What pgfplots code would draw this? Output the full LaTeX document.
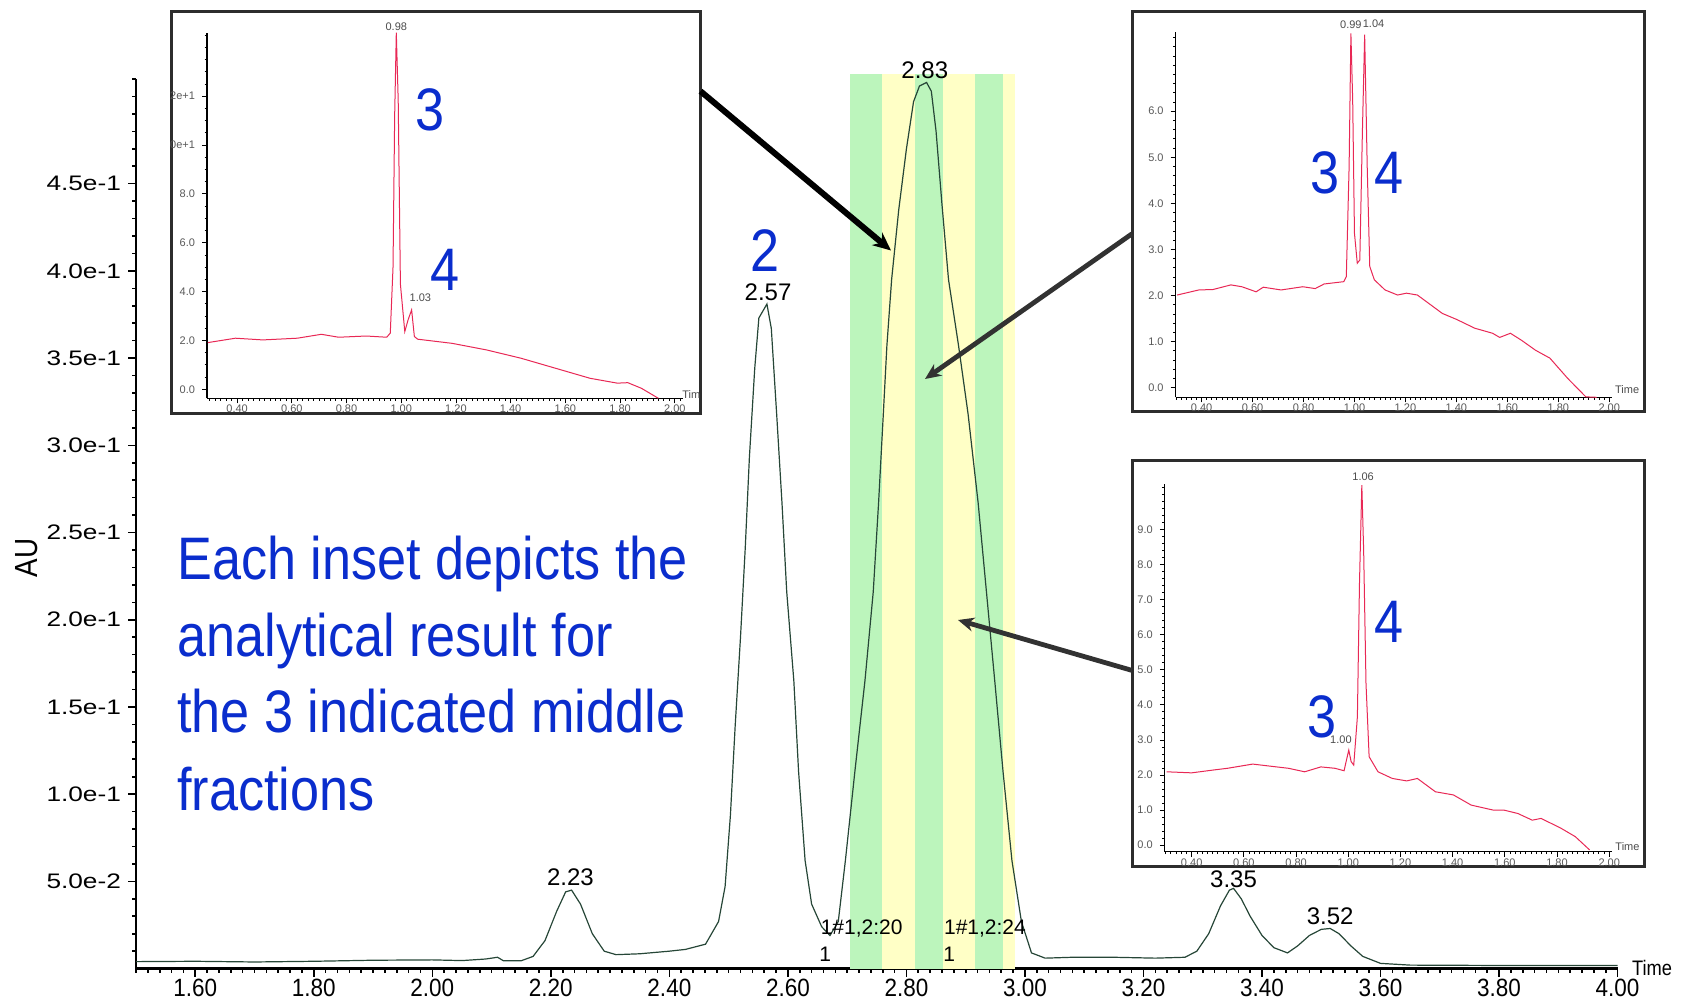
\documentclass[border=0pt]{standalone}
\usepackage{pgfplots}
\pgfplotsset{compat=1.18}
\usetikzlibrary{arrows.meta}
\usepackage{fontspec}
\setmainfont{Liberation Sans}
\newfontfamily\condfont[FakeStretch=0.87]{Liberation Sans}
\newfontfamily\narrowfont[FakeStretch=0.9]{Liberation Sans}
\newfontfamily\widefont[FakeStretch=1.25]{Liberation Sans}
\definecolor{bandgreen}{RGB}{188,245,188}
\definecolor{bandyellow}{RGB}{255,255,198}
\definecolor{trace}{RGB}{38,70,55}
\definecolor{inred}{RGB}{232,40,85}
\definecolor{blueT}{RGB}{10,45,205}
\definecolor{boxcol}{RGB}{45,45,45}
\definecolor{arrcol}{RGB}{50,50,50}
\tikzset{pk/.style={font=\fontsize{5.5}{6}\selectfont, text=black!70, inner sep=0pt}}
\pgfplotsset{
 inset/.style={scale only axis, anchor=south west,
  axis x line*=bottom, axis y line*=left,
  axis line style={line width=0.6pt},
  tick align=outside, major tick length=2.5pt, minor tick length=1.2pt,
  tick style={line width=0.4pt, black},
  tick label style={font=\fontsize{5.5}{6}\selectfont, text=black!65},
  xticklabel style={inner sep=0.5pt, yshift=-0.3pt},
  /pgf/number format/assume math mode=true,
  xtick={0.4,0.6,0.8,1.0,1.2,1.4,1.6,1.8,2.0},
  xticklabels={0.40,0.60,0.80,1.00,1.20,1.40,1.60,1.80,2.00},
  minor xtick={0.30,0.32,...,2.01},
  clip=false}
}
\begin{document}
\begin{tikzpicture}
\useasboundingbox (0,0) rectangle (841pt,-500.5pt);
% ---------------- main chromatogram ----------------
\begin{axis}[
 at={(68pt,-484.3pt)}, anchor=south west, scale only axis,
 width=740.8pt, height=444.8pt,
 xmin=1.5, xmax=4.0, ymin=0, ymax=0.51,
 axis x line*=bottom, axis y line*=left,
 axis line style={line width=1.4pt},
 tick align=outside, major tick length=4pt, minor tick length=2pt,
 tick style={line width=0.8pt, black},
 /pgf/number format/assume math mode=true,
 xtick={1.6,1.8,2.0,2.2,2.4,2.6,2.8,3.0,3.2,3.4,3.6,3.8,4.0},
 xticklabels={1.60,1.80,2.00,2.20,2.40,2.60,2.80,3.00,3.20,3.40,3.60,3.80,4.00},
 minor xtick={1.5,1.52,...,4.0},
 ytick={0.05,0.1,0.15,0.2,0.25,0.3,0.35,0.4,0.45},
 yticklabels={5.0e-2,1.0e-1,1.5e-1,2.0e-1,2.5e-1,3.0e-1,3.5e-1,4.0e-1,4.5e-1},
 minor ytick={0.01,0.02,...,0.505},
 xticklabel style={font=\narrowfont\fontsize{12.5}{14}\selectfont, inner sep=1pt, yshift=0pt},
 yticklabel style={font=\widefont\fontsize{10.5}{12}\selectfont},
 clip=false,
]
\addplot[draw=none, fill=bandgreen] coordinates {(2.705,0) (2.758,0) (2.758,0.513) (2.705,0.513)} -- cycle;
\addplot[draw=none, fill=bandyellow] coordinates {(2.758,0) (2.8146,0) (2.8146,0.513) (2.758,0.513)} -- cycle;
\addplot[draw=none, fill=bandgreen] coordinates {(2.8146,0) (2.862,0) (2.862,0.513) (2.8146,0.513)} -- cycle;
\addplot[draw=none, fill=bandyellow] coordinates {(2.862,0) (2.9157,0) (2.9157,0.513) (2.862,0.513)} -- cycle;
\addplot[draw=none, fill=bandgreen] coordinates {(2.9157,0) (2.9635,0) (2.9635,0.513) (2.9157,0.513)} -- cycle;
\addplot[draw=none, fill=bandyellow] coordinates {(2.9635,0) (2.983,0) (2.983,0.513) (2.9635,0.513)} -- cycle;
\addplot[trace, line width=0.6pt] coordinates {
(1.50,0.004) (1.60,0.0042) (1.70,0.0038) (1.80,0.0042) (1.90,0.0048) (2.00,0.0050)
(2.05,0.0046) (2.09,0.0055) (2.11,0.0065) (2.12,0.0045) (2.15,0.0045) (2.17,0.007)
(2.19,0.016) (2.21,0.033) (2.225,0.044) (2.235,0.045) (2.25,0.037) (2.27,0.020)
(2.29,0.010) (2.31,0.008) (2.35,0.0085) (2.40,0.010) (2.427,0.011) (2.461,0.014)
(2.483,0.027) (2.494,0.047) (2.503,0.088) (2.511,0.139) (2.520,0.190) (2.528,0.241)
(2.535,0.293) (2.544,0.344) (2.551,0.373) (2.5646,0.381) (2.572,0.367) (2.581,0.318)
(2.590,0.267) (2.598,0.216) (2.610,0.165) (2.618,0.113) (2.629,0.062) (2.640,0.037)
(2.657,0.024) (2.671,0.019) (2.685,0.027) (2.697,0.062) (2.713,0.113) (2.730,0.165)
(2.744,0.216) (2.753,0.267) (2.761,0.318) (2.767,0.357) (2.775,0.395) (2.787,0.435)
(2.800,0.470) (2.812,0.497) (2.822,0.506) (2.834,0.508) (2.842,0.503) (2.850,0.480) (2.860,0.438)
(2.871,0.395) (2.888,0.357) (2.904,0.318) (2.921,0.267) (2.935,0.216) (2.949,0.165)
(2.963,0.113) (2.978,0.062) (2.994,0.027) (3.011,0.009) (3.034,0.006) (3.08,0.0065)
(3.15,0.0065) (3.22,0.006) (3.27,0.0065) (3.29,0.010) (3.31,0.020) (3.33,0.036)
(3.345,0.045) (3.352,0.046) (3.365,0.040) (3.38,0.030) (3.40,0.019) (3.42,0.012)
(3.443,0.009) (3.46,0.013) (3.48,0.019) (3.50,0.0225) (3.515,0.023) (3.53,0.020)
(3.55,0.013) (3.57,0.007) (3.60,0.003) (3.65,0.002) (3.80,0.0018) (4.00,0.0018)};
\begin{scope}[font=\fontsize{12}{14}\selectfont, inner sep=0pt]
\node at (axis cs:2.233,0.0523) {2.23};
\node at (axis cs:2.5665,0.388) {2.57};
\node at (axis cs:2.831,0.515) {2.83};
\node at (axis cs:3.352,0.0515) {3.35};
\node at (axis cs:3.515,0.030) {3.52};
\end{scope}
\begin{scope}[font=\fontsize{10.5}{12}\selectfont, inner sep=0pt]
\node at (axis cs:2.7245,0.0228) {1\#1,2:20};
\node at (axis cs:2.663,0.0085) {1};
\node at (axis cs:2.9325,0.0228) {1\#1,2:24};
\node at (axis cs:2.872,0.0085) {1};
\end{scope}
\end{axis}
% ---------------- frames, labels ----------------
\begin{scope}[x=0.5pt, y=-0.5pt]
\node[rotate=90, font=\condfont\fontsize{16}{18}\selectfont, inner sep=0pt] at (27,558) {AU};
\node[font=\condfont\fontsize{10.5}{12}\selectfont, inner sep=0pt] at (1652,968) {Time};
\draw[line width=1.5pt, boxcol, fill=white] (171.6,11) rectangle (700.5,413);
\draw[line width=1.5pt, boxcol, fill=white] (1132,11) rectangle (1644.5,411.5);
\draw[line width=1.5pt, boxcol, fill=white] (1132,460.5) rectangle (1644.5,866.7);
\end{scope}
% ---------------- inset 1 ----------------
\begin{axis}[inset, at={(103.5pt,-199.15pt)}, width=238pt, height=182.85pt,
 xmin=0.29, xmax=2.03, ymin=-0.37, ymax=14.6,
 ytick={0,2,4,6,8,10,12}, yticklabels={0.0,2.0,4.0,6.0,8.0,0e+1,2e+1},
 minor ytick={0,0.5,...,14.5}]
\addplot[inred, line width=0.5pt] coordinates {
(0.293,1.91) (0.394,2.09) (0.494,2.02) (0.62,2.09) (0.708,2.25) (0.771,2.13)
(0.872,2.18) (0.947,2.13) (0.96,2.3) (0.97,5.0) (0.976,11.2) (0.982,14.6)
(0.989,11.8) (0.997,4.3) (1.013,2.36) (1.025,2.84) (1.038,3.25) (1.048,2.16)
(1.06,2.05) (1.186,1.88) (1.312,1.61) (1.438,1.27) (1.564,0.86) (1.69,0.45)
(1.79,0.25) (1.828,0.27) (1.878,0.04) (1.94,-0.37)};
\node[pk] at (axis cs:0.982,14.84) {0.98};
\node[pk] at (axis cs:1.07,3.75) {1.03};
\node[pk] at (axis cs:2.06,-0.2) {Tim};
\end{axis}
% ---------------- inset 2 ----------------
\begin{axis}[inset, at={(587.8pt,-198.65pt)}, width=218.1pt, height=182.9pt,
 xmin=0.298, xmax=2.01, ymin=-0.21, ymax=7.73,
 ytick={0,1,2,3,4,5,6}, yticklabels={0.0,1.0,2.0,3.0,4.0,5.0,6.0},
 minor ytick={0,0.2,...,7.7}]
\addplot[inred, line width=0.5pt] coordinates {
(0.304,2.01) (0.389,2.12) (0.445,2.13) (0.515,2.23) (0.558,2.19) (0.614,2.08)
(0.642,2.18) (0.712,2.12) (0.797,2.19) (0.846,2.15) (0.881,2.25) (0.958,2.30)
(0.968,2.41) (0.979,4.80) (0.986,7.69) (0.993,6.24) (1.0,3.35) (1.011,2.70)
(1.021,2.77) (1.031,5.52) (1.04,7.66) (1.05,4.80) (1.06,2.63) (1.078,2.34)
(1.12,2.12) (1.169,2.01) (1.204,2.05) (1.247,2.01) (1.345,1.61) (1.401,1.48)
(1.472,1.29) (1.542,1.18) (1.57,1.09) (1.612,1.18) (1.655,1.03) (1.711,0.81)
(1.767,0.64) (1.837,0.20) (1.908,-0.20) (1.95,-0.21)};
\node[pk] at (axis cs:0.986,7.87) {0.99};
\node[pk] at (axis cs:1.075,7.89) {1.04};
\node[pk] at (axis cs:2.07,-0.05) {Time};
\end{axis}
% ---------------- inset 3 ----------------
\begin{axis}[inset, at={(582.4pt,-425.85pt)}, width=223.5pt, height=184pt,
 xmin=0.297, xmax=2.01, ymin=-0.19, ymax=10.31,
 ytick={0,1,2,3,4,5,6,7,8,9}, yticklabels={0.0,1.0,2.0,3.0,4.0,5.0,6.0,7.0,8.0,9.0},
 minor ytick={0,0.2,...,10.2}]
\addplot[inred, line width=0.5pt] coordinates {
(0.304,2.09) (0.4,2.06) (0.482,2.14) (0.537,2.19) (0.634,2.31) (0.702,2.25)
(0.771,2.19) (0.833,2.09) (0.895,2.23) (0.949,2.19) (0.984,2.12) (0.993,2.42)
(1.002,2.71) (1.011,2.38) (1.021,2.28) (1.035,3.66) (1.043,7.46) (1.052,10.27)
(1.059,8.41) (1.068,4.61) (1.08,2.52) (1.114,2.09) (1.169,1.90) (1.224,1.83)
(1.265,1.90) (1.334,1.52) (1.403,1.43) (1.471,1.14) (1.554,1.00) (1.595,1.00)
(1.65,0.90) (1.705,0.71) (1.739,0.76) (1.815,0.48) (1.87,0.24) (1.925,-0.14)};
\node[pk] at (axis cs:1.057,10.5) {1.06};
\node[pk] at (axis cs:0.972,3.01) {1.00};
\node[pk] at (axis cs:2.07,-0.03) {Time};
\end{axis}
% ---------------- arrows and blue text ----------------
\begin{scope}[x=0.5pt, y=-0.5pt]
\draw[line width=3pt, black, -{Stealth[length=9pt,width=8pt]}] (700.5,91.2) -- (891,250.5);
\draw[line width=2.4pt, arrcol, -{Stealth[length=8pt,width=7pt]}] (1132,233.8) -- (925,379);
\draw[line width=2.4pt, arrcol, -{Stealth[length=8pt,width=7pt]}] (1132,670.4) -- (958,620);
\begin{scope}[font=\condfont\fontsize{30}{36}\selectfont, text=blueT, inner sep=0pt]
\node at (765,251) {2};
\node at (430.3,110) {3};
\node at (445,270) {4};
\node at (1325.4,173.3) {3};
\node at (1388.8,173.3) {4};
\node at (1389.5,621.7) {4};
\node at (1322,716.7) {3};
\node[anchor=base west] at (177,579) {Each inset depicts the};
\node[anchor=base west] at (177,656.5) {analytical result for};
\node[anchor=base west] at (177,732.6) {the 3 indicated middle};
\node[anchor=base west] at (177,810) {fractions};
\end{scope}
\end{scope}
\end{tikzpicture}
\end{document}
